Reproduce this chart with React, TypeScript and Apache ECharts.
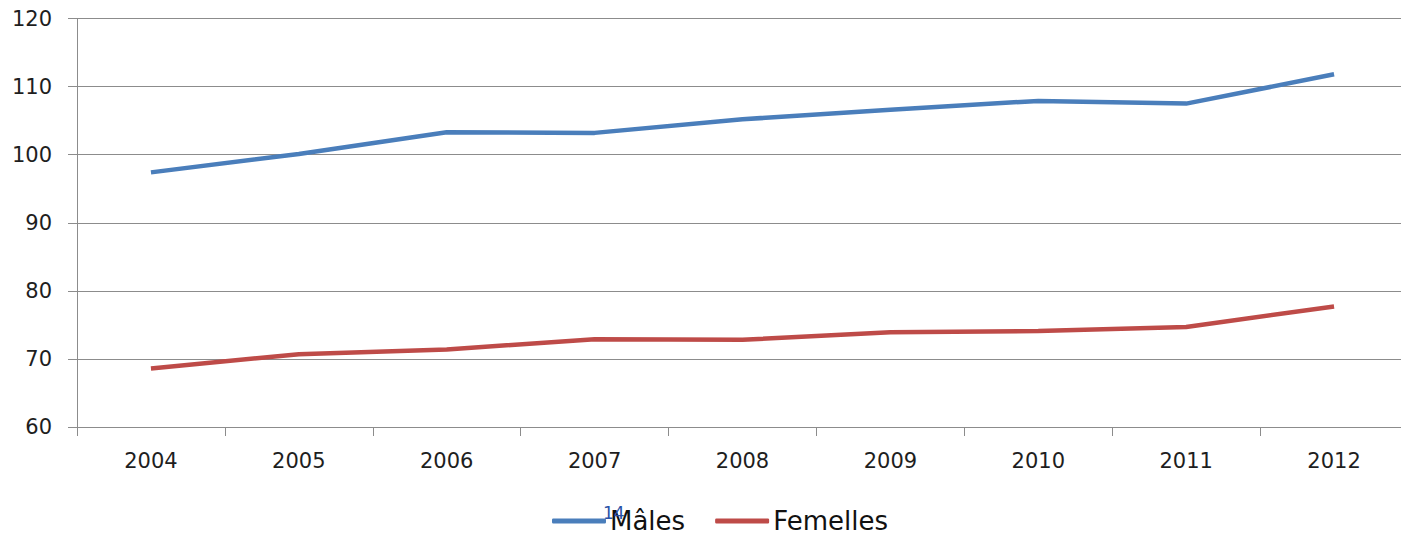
import React, { useEffect, useRef } from "react";
import * as echarts from "echarts";

const years = ["2004", "2005", "2006", "2007", "2008", "2009", "2010", "2011", "2012"];
const males = [97.4, 100.1, 103.3, 103.2, 105.2, 106.6, 107.9, 107.5, 111.8];
const femelles = [68.6, 70.7, 71.4, 72.9, 72.8, 73.9, 74.1, 74.7, 77.7];
const seriesNames = ["Mâles", "Femelles"];
const yTicks = { min: 60, max: 120, interval: 10 };

const FONT = "'DejaVu Sans', sans-serif";
const GRAY = "#8c8c8c";

export default function App() {
  const ref = useRef<HTMLDivElement>(null);
  useEffect(() => {
    if (!ref.current) return;
    const chart = echarts.init(ref.current, null, { renderer: "svg" });
    chart.setOption({
      animation: false,
      grid: { left: 69, right: 1, top: 10, bottom: 108, containLabel: false },
      xAxis: {
        type: "category",
        data: years,
        boundaryGap: true,
        axisLine: { lineStyle: { color: GRAY, width: 1 } },
        axisTick: { show: true, length: 9, lineStyle: { color: GRAY } },
        axisLabel: { color: "#1e1e1e", fontSize: 21, fontFamily: FONT, margin: 23 },
        splitLine: { show: false },
      },
      yAxis: {
        type: "value",
        min: yTicks.min,
        max: yTicks.max,
        interval: yTicks.interval,
        axisLine: { show: true, lineStyle: { color: GRAY, width: 1 } },
        axisTick: { show: true, length: 9, lineStyle: { color: GRAY } },
        axisLabel: { color: "#1e1e1e", fontSize: 21, fontFamily: FONT, margin: 25 },
        splitLine: { show: true, lineStyle: { color: GRAY, width: 1 } },
      },
      legend: {
        top: 500,
        left: 544,
        padding: 0,
        itemWidth: 54,
        itemHeight: 5,
        itemGap: 30,
        icon: "roundRect",
        textStyle: { fontSize: 26, fontFamily: FONT, color: "#111", padding: [0, 0, 0, -1] },
        data: seriesNames,
      },
      series: [
        {
          name: seriesNames[0],
          type: "line",
          data: males,
          symbol: "none",
          lineStyle: { color: "#4A7EBB", width: 4.5 },
          itemStyle: { color: "#4A7EBB" },
        },
        {
          name: seriesNames[1],
          type: "line",
          data: femelles,
          symbol: "none",
          lineStyle: { color: "#BE4B48", width: 4.5 },
          itemStyle: { color: "#BE4B48" },
        },
      ],
      graphic: [
        {
          type: "text",
          left: 595,
          top: 496,
          style: { text: "14", fontSize: 17, fontFamily: FONT, fill: "#2A52A8" },
          z: 100,
        },
      ],
    });
    return () => chart.dispose();
  }, []);
  return <div ref={ref} style={{ width: 1401, height: 527 }} />;
}
